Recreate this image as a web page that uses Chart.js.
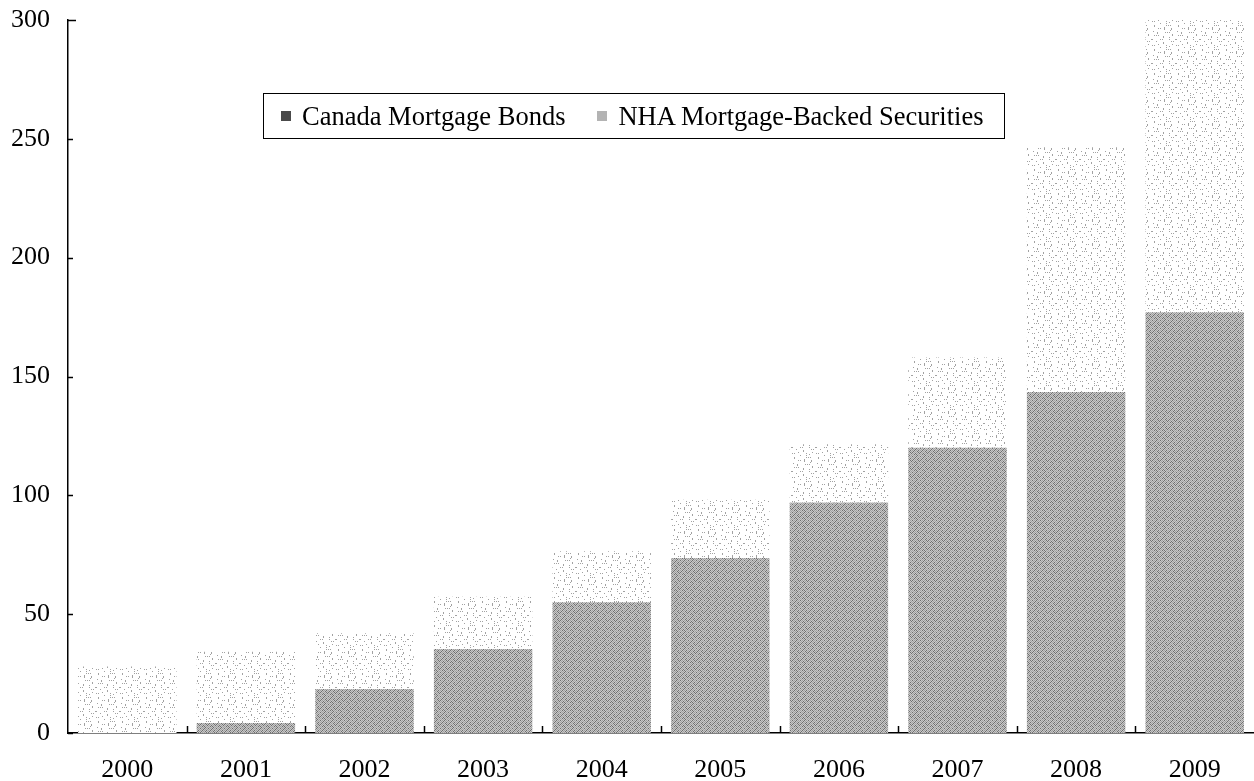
<!DOCTYPE html>
<html>
<head>
<meta charset="utf-8">
<script src="https://cdn.jsdelivr.net/npm/chart.js@4.4.1/dist/chart.umd.min.js"></script>
<style>
html,body{margin:0;padding:0;background:#fff;}
#wrap{position:relative;width:1254px;height:781px;}
#legend{position:absolute;left:263px;top:93px;width:742px;height:46px;border:1px solid #000;box-sizing:border-box;
  font-family:"Liberation Serif","Times New Roman",serif;font-size:26.5px;color:#000;display:flex;align-items:center;white-space:nowrap;padding-left:17px;}
#legend .item{display:flex;align-items:center;}
#legend .sw{display:inline-block;width:10px;height:10px;margin-right:11px;}
</style>
</head>
<body>
<div id="wrap">
  <canvas id="c" width="1254" height="781"></canvas>
  <div id="legend"></div>
</div>
<script>
// ---- data (billions) ----
const years = ["2000","2001","2002","2003","2004","2005","2006","2007","2008","2009"];
const canadaMortgageBonds = [0, 4.2, 18.5, 35.3, 55, 73.6, 97, 120, 143.5, 177];
const nhaMortgageBacked = [28, 30, 23.5, 22, 21.5, 24.5, 24.5, 38, 103, 123];
const seriesNames = ["Canada Mortgage Bonds", "NHA Mortgage-Backed Securities"];
const yTickValues = [0, 50, 100, 150, 200, 250, 300];

// ---- textures (styling only) ----
function makePattern(rows, palette){
  const h = rows.length, w = rows[0].length;
  const cv = document.createElement('canvas'); cv.width = w; cv.height = h;
  const g = cv.getContext('2d');
  for(let r=0;r<h;r++) for(let c=0;c<w;c++){
    g.fillStyle = palette[rows[r][c]]; g.fillRect(c,r,1,1);
  }
  return g.createPattern(cv,'repeat');
}
const darkRows = [
  "#.+.#.+.",
  ".+.#.+.+",
  "+.#.+.#.",
  ".#.+.#.+",
  "#.+.+.#.",
  ".+.#.+.#",
  "+.#.#.+.",
  ".+.+.#.+"
];
const lightRows = [
  "........................",
  "..o...........o.o.o.....",
  "..o.....................",
  "............o...........",
  "......o.o...o......o....",
  "............o......o....",
  "..................o.....",
  ".o......................",
  ".....o.......o.o.o......",
  ".....o..................",
  "....................o...",
  "..o.o.o.............o...",
  "...........o............",
  "...........o.....o......",
  "........................",
  "o.......o.o......o.....o",
  "........................",
  "....o..............o.o..",
  "...........o............",
  "...........o............",
  "......o.............o...",
  "o.o...........o.........",
  ".................o......",
  "........o.....o.........",
];
const cmbFill = makePattern(darkRows, {"#":"#6f6f6f", "+":"#a0a0a0", ".":"#c8c8c8"});
const nhaFill = makePattern(lightRows, {"o":"#a2a2a2", ".":"#ffffff"});
const swatchColors = ["#4a4a4a", "#b3b3b3"];

// ---- legend (HTML) ----
const leg = document.getElementById('legend');
seriesNames.forEach((name,i)=>{
  const it = document.createElement('span'); it.className='item';
  if(i>0) it.style.marginLeft='32px';
  const sw = document.createElement('span'); sw.className='sw'; sw.style.background=swatchColors[i];
  const tx = document.createElement('span'); tx.textContent=name;
  it.appendChild(sw); it.appendChild(tx); leg.appendChild(it);
});

const FONT = {family:'"Liberation Serif","Times New Roman",serif', size:26};

const tickMarks = {
  id:'tickMarks',
  afterDraw(chart){
    const {ctx, chartArea:a, scales:{x,y}} = chart;
    ctx.save(); ctx.strokeStyle='#000'; ctx.lineWidth=1.5;
    y.ticks.forEach((t,i)=>{
      const py = Math.round(y.getPixelForTick(i))+0.5;
      const len = (t.value===300)?8:5;
      ctx.beginPath(); ctx.moveTo(a.left,py); ctx.lineTo(a.left+len,py); ctx.stroke();
    });
    for(let i=1;i<x.ticks.length;i++){
      const px = Math.round((x.getPixelForTick(i-1)+x.getPixelForTick(i))/2)+0.5;
      ctx.beginPath(); ctx.moveTo(px,a.bottom); ctx.lineTo(px,a.bottom-7); ctx.stroke();
    }
    ctx.restore();
  }
};

new Chart(document.getElementById('c'), {
  type:'bar',
  data:{
    labels: years,
    datasets:[
      {label:seriesNames[0], data:canadaMortgageBonds, backgroundColor:cmbFill, borderWidth:0, stack:'s'},
      {label:seriesNames[1], data:nhaMortgageBacked, backgroundColor:nhaFill, borderWidth:0, stack:'s'}
    ]
  },
  options:{
    responsive:false, animation:false, devicePixelRatio:1,
    layout:{padding:{top:20,right:0,left:0,bottom:0}},
    plugins:{legend:{display:false}, tooltip:{enabled:false}},
    datasets:{bar:{barPercentage:0.83, categoryPercentage:1}},
    scales:{
      x:{
        stacked:true, offset:true,
        grid:{display:false},
        border:{display:true,color:'#000',width:1.5},
        ticks:{color:'#000', font:FONT, padding:14, maxRotation:0, autoSkip:false},
        afterFit(s){ s.height = 48; s.paddingLeft = 0; s.paddingRight = 0; }
      },
      y:{
        stacked:true, min:0, max:300,
        afterBuildTicks(s){ s.ticks = yTickValues.map(v=>({value:v})); },
        grid:{display:false},
        border:{display:true,color:'#000',width:1.5},
        ticks:{color:'#000', font:FONT, padding:10},
        afterFit(s){ s.width = 68; s.paddingTop = 0; s.paddingBottom = 0; }
      }
    }
  },
  plugins:[tickMarks]
});
</script>
</body>
</html>
